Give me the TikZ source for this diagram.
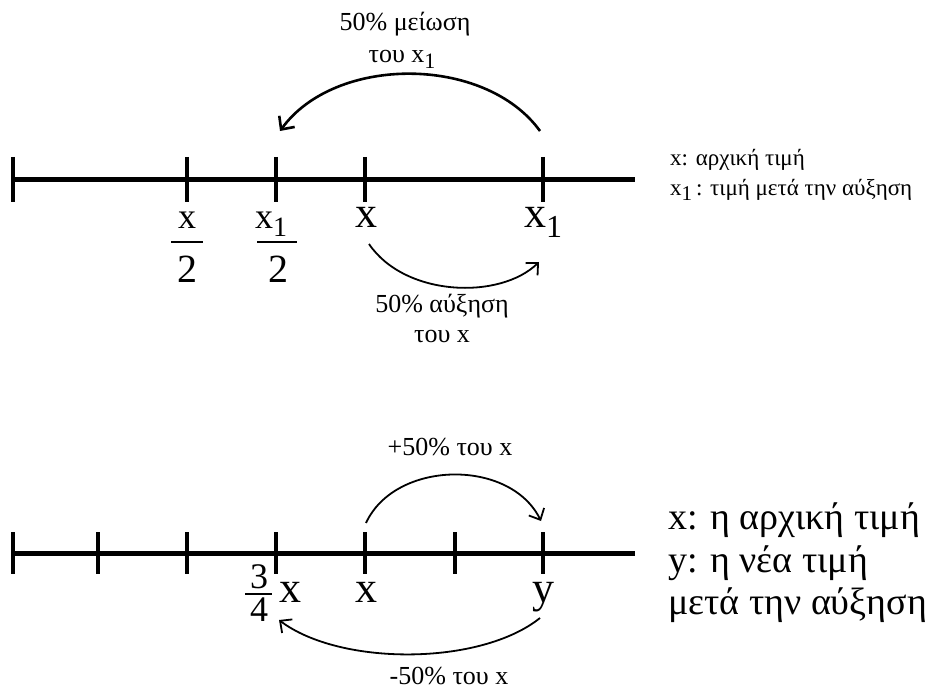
\documentclass[tikz,border=0pt]{standalone}
\usepackage{fontspec}
\setmainfont{Liberation Serif}
\usetikzlibrary{arrows.meta}
\newcommand\lowone[1]{\raisebox{-0.45ex}{\fontsize{#1}{#1}\selectfont 1}}
\begin{document}
\begin{tikzpicture}[x=1pt,y=-1pt,
  axisline/.style={line width=5pt},
  tickline/.style={line width=3.5pt},
  barline/.style={line width=2pt},
  arcline/.style={line width=1.8pt,-{Straight Barb[length=9pt,width=17pt,line width=1.8pt]}},
  thickarc/.style={line width=2.6pt,-{Straight Barb[length=10pt,width=19pt,line width=2.6pt]}},
  biglbl/.style={inner sep=0pt,anchor=base,font=\fontsize{44}{50}\selectfont},
  fraclbl/.style={inner sep=0pt,anchor=base,font=\fontsize{36}{40}\selectfont},
  denlbl/.style={inner sep=0pt,anchor=base,font=\fontsize{40}{44}\selectfont},
  smalllbl/.style={inner sep=0pt,anchor=base,font=\fontsize{26}{30}\selectfont},
  legsmall/.style={inner sep=0pt,anchor=base west,font=\fontsize{23}{27}\selectfont},
  legbig/.style={inner sep=0pt,anchor=base west,font=\fontsize{38}{42}\selectfont}]
\useasboundingbox (0,0) rectangle (934,692);
\fill[white] (0,0) rectangle (934,692);

% ---------- top number line ----------
\draw[axisline] (13,180) -- (635,180);
\foreach \t in {13,187,276,365,543} \draw[tickline] (\t,157) -- (\t,202);

\node[fraclbl] (n1) at (187,229) {x};
\draw[barline] (171,242) -- (203,242);
\node[denlbl] (d1) at (187,283) {2};

\node[fraclbl] (n2) at (271,229) {x\lowone{28}};
\draw[barline] (257,242) -- (297,242);
\node[denlbl] (d2) at (278,283) {2};

\node[biglbl] (xa) at (366,228) {x};
\node[biglbl] (xb) at (543,228) {x\lowone{32}};

\coordinate (ta1) at (540,131);
\coordinate (ta2) at (280,131);
\draw[thickarc] (ta1) .. controls (485,55) and (335,55) .. (ta2);
\node[smalllbl] (tl1) at (405,31) {50\% μείωση};
\node[smalllbl] (tl2) at (402,63) {του x\lowone{22}};

\coordinate (tb1) at (369,244);
\coordinate (tb2) at (539,262);
\draw[arcline] (tb1) .. controls (405,297) and (500,300) .. (tb2);
\node[smalllbl] (tl3) at (442,313) {50\% αύξηση};
\node[smalllbl] (tl4) at (442,343) {του x};

\node[legsmall] (lg1) at (670,166) {x: αρχική τιμή};
\node[legsmall] (lg2) at (670,196) {x\lowone{21}\,: τιμή μετά την αύξηση};

% ---------- bottom number line ----------
\draw[axisline] (13,553) -- (635,553);
\foreach \t in {13,98,187,276,365,455,543} \draw[tickline] (\t,532) -- (\t,574);

\node[fraclbl] (n3) at (259,588) {3};
\draw[barline] (245,594) -- (272,594);
\node[fraclbl] (d3) at (259,621) {4};
\node[biglbl] (xc) at (290,602) {x};
\node[biglbl] (xd) at (366,602) {x};
\node[biglbl] (yy) at (543,602) {y};

\coordinate (ba1) at (366,523);
\coordinate (ba2) at (541,521);
\draw[arcline] (ba1) .. controls (395,460) and (510,458) .. (ba2);
\node[smalllbl] (bl1) at (450,455) {+50\% του x};

\coordinate (bb1) at (540,618);
\coordinate (bb2) at (279,620);
\draw[arcline] (bb1) .. controls (480,666) and (340,666) .. (bb2);
\node[smalllbl] (bl2) at (449,684) {-50\% του x};

\node[legbig] (lg3) at (668,529) {x: η αρχική τιμή};
\node[legbig] (lg4) at (668,572) {y: η νέα τιμή};
\node[legbig] (lg5) at (668,614) {μετά την αύξηση};
\end{tikzpicture}
\end{document}
